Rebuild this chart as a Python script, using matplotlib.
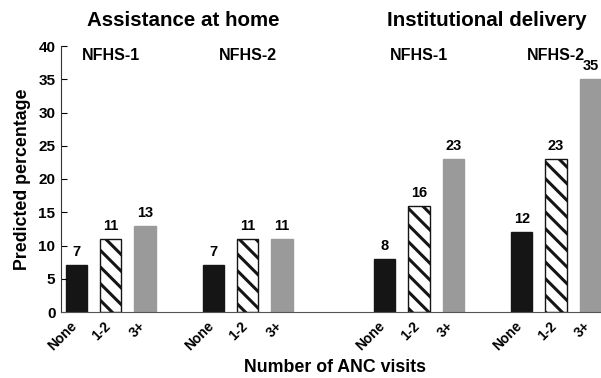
import numpy as np
import matplotlib
matplotlib.use('Agg')
import matplotlib.pyplot as plt
import matplotlib.transforms as mtransforms

plt.rcParams['font.family'] = ['Liberation Sans', 'DejaVu Sans']
plt.rcParams['font.weight'] = 'bold'
plt.rcParams['hatch.linewidth'] = 2.2

# data
categories = ['None', '1-2', '3+']
panels = ['Assistance at home', 'Institutional delivery']
surveys = ['NFHS-1', 'NFHS-2', 'NFHS-1', 'NFHS-2']
values = [
    [7, 11, 13],   # home, NFHS-1
    [7, 11, 11],   # home, NFHS-2
    [8, 16, 23],   # institutional, NFHS-1
    [12, 23, 35],  # institutional, NFHS-2
]
group_starts = [0, 4, 9, 13]

colors = ['#151515', 'white', '#9a9a9a']
hatches = [None, '\\\\', None]

fig = plt.figure(figsize=(6.01, 3.78), dpi=100)
ax = fig.add_axes([61 / 601, 66 / 378, 540 / 601, 266 / 378])

xticks = []
xlabels = []
for g, start in enumerate(group_starts):
    for i, v in enumerate(values[g]):
        x = start + i
        ax.bar(x, v, width=0.62, color=colors[i], hatch=hatches[i],
               edgecolor='#151515' if i == 1 else colors[i], linewidth=1.0)
        ax.text(x, v + 0.9, str(v), ha='center', va='bottom',
                fontsize=10.5, fontweight='bold')
        xticks.append(x)
        xlabels.append(categories[i])
    ax.text(start + 1, 38.5, surveys[g], ha='center', va='center',
            fontsize=11.5, fontweight='bold')

ax.set_xlim(-0.45, 15.31)
ax.set_ylim(0, 40)
ax.set_yticks(np.arange(0, 41, 5))
ax.set_xticks(xticks)
ax.set_xticklabels(xlabels, rotation=45, ha='right', va='top',
                   rotation_mode='anchor', fontsize=10, fontweight='bold')
ax.tick_params(axis='x', length=0, pad=5)
ax.tick_params(axis='y', direction='in', length=4, labelsize=11, pad=4)
for lab in ax.get_yticklabels():
    lab.set_fontweight('bold')

# nudge the rotated category labels a bit to the left
shift = mtransforms.ScaledTranslation(-7 / 100, 0, fig.dpi_scale_trans)
for lab in ax.get_xticklabels():
    lab.set_transform(lab.get_transform() + shift)

ax.spines['top'].set_visible(False)
ax.spines['right'].set_visible(False)
ax.spines['left'].set_color('#333333')
ax.spines['bottom'].set_color('#555555')

ax.set_ylabel('Predicted percentage', fontsize=12.8, fontweight='bold', labelpad=5)
fig.text(335 / 601, 1 - 367 / 378, 'Number of ANC visits', ha='center', va='center',
         fontsize=12.8, fontweight='bold')
fig.text(183 / 601, 1 - 20 / 378, panels[0], ha='center', va='center',
         fontsize=14.8, fontweight='bold')
fig.text(487 / 601, 1 - 20 / 378, panels[1], ha='center', va='center',
         fontsize=14.8, fontweight='bold')

fig.savefig('out.png', dpi=100)
